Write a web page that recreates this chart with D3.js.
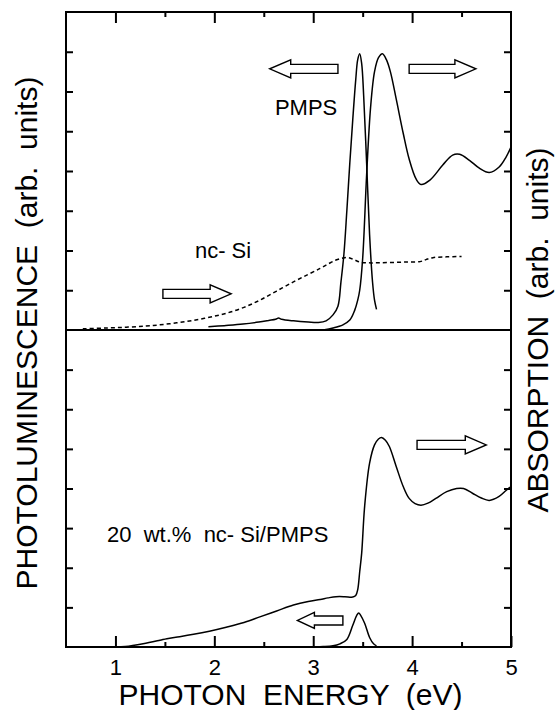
<!DOCTYPE html>
<html>
<head>
<meta charset="utf-8">
<script src="https://cdn.jsdelivr.net/npm/d3@7"></script>
<style>
html,body{margin:0;padding:0;background:#fff;}
svg text{font-family:"Liberation Sans",Arial,Helvetica,sans-serif;fill:#000;white-space:pre;}
</style>
</head>
<body>
<svg id="chart" width="555" height="710"></svg>
<script>
// ---------- data ----------
const xMajorTicks = [1, 2, 3, 4, 5];
const xMinorTicks = [1.5, 2.5, 3.5, 4.5];
const xTickLabels = ["1", "2", "3", "4", "5"];
const yTicks = [1, 2, 3, 4, 5, 6, 7];

// upper panel: PMPS photoluminescence
const plPmpsE = [1.94, 2.10, 2.29, 2.45, 2.55, 2.62, 2.65, 2.68, 2.80, 2.95, 3.05, 3.13, 3.20, 3.25, 3.28, 3.31, 3.34, 3.37, 3.40, 3.43, 3.45, 3.47, 3.49, 3.51, 3.54, 3.57, 3.60, 3.62, 3.64];
const plPmpsI = [0.08, 0.11, 0.15, 0.20, 0.24, 0.27, 0.30, 0.27, 0.23, 0.20, 0.19, 0.23, 0.38, 0.60, 1.20, 1.90, 3.00, 4.20, 5.30, 6.30, 6.80, 6.95, 6.70, 5.90, 4.20, 2.40, 1.20, 0.75, 0.52];

// upper panel: PMPS absorption
const absPmpsE = [3.10, 3.20, 3.30, 3.37, 3.42, 3.45, 3.47, 3.50, 3.54, 3.58, 3.62, 3.66, 3.70, 3.74, 3.78, 3.84, 3.91, 3.97, 4.04, 4.09, 4.18, 4.31, 4.41, 4.48, 4.58, 4.68, 4.78, 4.88, 4.95, 5.00];
const absPmpsA = [0.00, 0.05, 0.13, 0.25, 0.50, 0.75, 1.00, 1.80, 3.90, 5.60, 6.50, 6.85, 6.95, 6.80, 6.50, 5.80, 4.95, 4.30, 3.80, 3.66, 3.77, 4.15, 4.40, 4.42, 4.27, 4.07, 3.96, 4.10, 4.35, 4.60];

// upper panel: nc-Si absorption (dashed)
const absNcE = [0.67, 0.90, 1.11, 1.30, 1.45, 1.62, 1.78, 1.95, 2.12, 2.30, 2.46, 2.63, 2.80, 2.95, 3.07, 3.15, 3.23, 3.30, 3.36, 3.42, 3.47, 3.55, 3.65, 3.80, 3.95, 4.08, 4.14, 4.21, 4.35, 4.50];
const absNcA = [0.03, 0.05, 0.07, 0.10, 0.13, 0.18, 0.24, 0.32, 0.42, 0.57, 0.75, 0.98, 1.21, 1.40, 1.55, 1.66, 1.76, 1.81, 1.82, 1.76, 1.71, 1.69, 1.69, 1.70, 1.71, 1.72, 1.77, 1.82, 1.84, 1.85];

// lower panel: 20 wt.% nc-Si/PMPS absorption
const absMixE = [1.00, 1.10, 1.28, 1.45, 1.52, 1.65, 1.79, 1.95, 2.12, 2.30, 2.46, 2.63, 2.80, 2.95, 3.07, 3.15, 3.23, 3.32, 3.40, 3.43, 3.45, 3.47, 3.49, 3.52, 3.57, 3.62, 3.66, 3.69, 3.73, 3.77, 3.84, 3.91, 3.97, 4.03, 4.09, 4.16, 4.24, 4.35, 4.45, 4.52, 4.61, 4.70, 4.78, 4.88, 4.95, 5.00];
const absMixA = [0.00, 0.01, 0.08, 0.17, 0.21, 0.26, 0.32, 0.40, 0.50, 0.62, 0.76, 0.91, 1.06, 1.15, 1.20, 1.24, 1.27, 1.27, 1.26, 1.30, 1.45, 1.90, 2.37, 3.55, 4.64, 5.10, 5.25, 5.29, 5.22, 5.06, 4.55, 4.05, 3.75, 3.62, 3.58, 3.63, 3.75, 3.92, 4.00, 4.00, 3.88, 3.76, 3.70, 3.80, 3.95, 4.05];

// lower panel: 20 wt.% nc-Si/PMPS photoluminescence
const plMixE = [2.90, 3.10, 3.20, 3.27, 3.34, 3.40, 3.44, 3.46, 3.48, 3.52, 3.57, 3.61, 3.64];
const plMixI = [0.00, 0.01, 0.03, 0.08, 0.19, 0.55, 0.80, 0.86, 0.80, 0.60, 0.24, 0.08, 0.03];

// annotations (data coordinates: eV, tick units)
const arrowPanel = ["up", "up", "up", "lo", "lo"];
const arrowFrom  = [3.25, 3.97, 1.48, 4.05, 3.30];
const arrowTo    = [2.56, 4.645, 2.17, 4.75, 2.84];
const arrowY     = [6.57, 6.57, 0.91, 5.10, 0.67];

const labelText  = ["PMPS", "nc- Si", "20  wt.%  nc- Si/PMPS"];
const labelPanel = ["up", "up", "lo"];
const labelX     = [2.613, 1.804, 0.915];
const labelY     = [5.41, 1.81, 2.64];

// ---------- drawing ----------
const svg = d3.select("#chart");
const x = d3.scaleLinear().domain([0.5, 5]).range([66, 511]);
const yUp = d3.scaleLinear().domain([0, 8]).range([330, 12]);
const yLo = d3.scaleLinear().domain([0, 8]).range([647, 330]);
const ySc = p => p === "up" ? yUp : yLo;

const zip = (a, b) => a.map((v, i) => [v, b[i]]);
function drawCurve(E, V, ys, dashed) {
  const line = d3.line().x(d => x(d[0])).y(d => ys(d[1])).curve(d3.curveCatmullRom.alpha(0.5));
  svg.append("path").datum(zip(E, V))
    .attr("d", line).attr("fill", "none").attr("stroke", "#000")
    .attr("stroke-width", 1.5)
    .attr("stroke-dasharray", dashed ? "4,3" : null);
}
drawCurve(absNcE, absNcA, yUp, true);
drawCurve(plPmpsE, plPmpsI, yUp, false);
drawCurve(absPmpsE, absPmpsA, yUp, false);
drawCurve(absMixE, absMixA, yLo, false);
drawCurve(plMixE, plMixI, yLo, false);

// axes
function styleAxis(g) {
  g.select(".domain").remove();
  g.selectAll(".tick line").attr("stroke", "#000").attr("stroke-width", 2);
  g.selectAll(".tick text").attr("font-size", 22).attr("font-family", '"Liberation Sans",Arial,sans-serif');
}
svg.append("g").attr("transform", `translate(0,${yLo(0)})`)
  .call(d3.axisBottom(x).tickValues(xMajorTicks).tickSizeInner(-11).tickSizeOuter(0).tickPadding(12)
    .tickFormat((d, i) => xTickLabels[i]))
  .call(styleAxis);
svg.selectAll(".tick text").attr("dy", "0.71em");
svg.append("g").attr("transform", `translate(0,${yLo(0)})`)
  .call(d3.axisBottom(x).tickValues(xMinorTicks).tickSizeInner(-5).tickSizeOuter(0).tickFormat(""))
  .call(styleAxis);
svg.append("g").attr("transform", `translate(0,${yUp(8)})`)
  .call(d3.axisTop(x).tickValues(xMajorTicks.slice(0, 4)).tickSizeInner(-11).tickSizeOuter(0).tickFormat(""))
  .call(styleAxis);
svg.append("g").attr("transform", `translate(0,${yUp(8)})`)
  .call(d3.axisTop(x).tickValues(xMinorTicks).tickSizeInner(-5).tickSizeOuter(0).tickFormat(""))
  .call(styleAxis);
[yUp, yLo].forEach(ys => {
  svg.append("g").attr("transform", `translate(${x(0.5)},0)`)
    .call(d3.axisLeft(ys).tickValues(yTicks).tickSizeInner(-7).tickSizeOuter(0).tickFormat(""))
    .call(styleAxis);
  svg.append("g").attr("transform", `translate(${x(5)},0)`)
    .call(d3.axisRight(ys).tickValues(yTicks).tickSizeInner(-7).tickSizeOuter(0).tickFormat(""))
    .call(styleAxis);
});

// frame and divider
svg.append("rect").attr("x", x(0.5)).attr("y", yUp(8))
  .attr("width", x(5) - x(0.5)).attr("height", yLo(0) - yUp(8))
  .attr("fill", "none").attr("stroke", "#000").attr("stroke-width", 2);
svg.append("line").attr("x1", x(0.5)).attr("x2", x(5)).attr("y1", yUp(0)).attr("y2", yUp(0))
  .attr("stroke", "#000").attr("stroke-width", 2);

// arrows
arrowFrom.forEach((f, i) => {
  const ys = ySc(arrowPanel[i]);
  const x0 = x(f), x1 = x(arrowTo[i]), yc = ys(arrowY[i]);
  const dir = Math.sign(x1 - x0);
  const small = Math.abs(x1 - x0) < 55;
  const hl = small ? 17 : 21, hh = small ? 8 : 9, sh = 4.5;
  const xb = x1 - dir * hl;
  const pts = [[x0, yc - sh], [xb, yc - sh], [xb, yc - hh], [x1, yc], [xb, yc + hh], [xb, yc + sh], [x0, yc + sh]];
  svg.append("polygon").attr("points", pts.map(p => p.join(",")).join(" "))
    .attr("fill", "#fff").attr("stroke", "#000").attr("stroke-width", 1.4)
    .attr("stroke-linejoin", "miter");
});

// in-plot labels
labelText.forEach((t, i) => {
  svg.append("text").attr("x", x(labelX[i])).attr("y", ySc(labelPanel[i])(labelY[i]))
    .attr("font-size", 22).text(t);
});

// axis titles
svg.append("text").attr("x", (x(0.5) + x(5)) / 2 + 2).attr("y", 705)
  .attr("text-anchor", "middle").attr("font-size", 30).text("PHOTON  ENERGY  (eV)");
svg.append("text").attr("transform", `translate(37,${yUp(0) + 3}) rotate(-90)`)
  .attr("text-anchor", "middle").attr("font-size", 30).text("PHOTOLUMINESCENCE  (arb.  units)");
svg.append("text").attr("transform", `translate(548,${yUp(0)}) rotate(-90)`)
  .attr("text-anchor", "middle").attr("font-size", 30).text("ABSORPTION  (arb.  units)");
</script>
</body>
</html>
